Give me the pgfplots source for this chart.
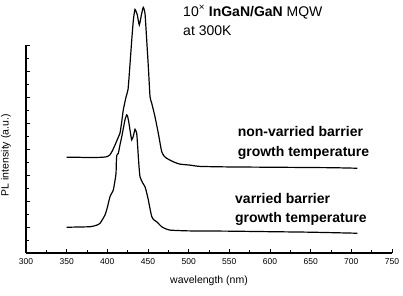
\documentclass[border=0pt]{standalone}
\usepackage{fontspec}
\setmainfont{Liberation Sans}
\usepackage{pgfplots}
\pgfplotsset{compat=1.18}

\begin{document}
\begin{tikzpicture}
\begin{axis}[
  scale only axis, width=366pt, height=208pt,
  xmin=300, xmax=750, ymin=0, ymax=8,
  axis x line*=bottom, axis y line*=left,
  axis line style={line width=1.1pt, -},
  xtick distance=50, minor x tick num=1,
  ytick={0,...,8}, minor y tick num=1, yticklabels={},
  tick align=inside,
  major tick length=4pt, minor tick length=2.5pt,
  tick style={black, line width=0.9pt},
  xticklabel style={font=\fontsize{8.5}{10}\selectfont, yshift=-2.5pt},
  /pgf/number format/assume math mode=true,
  /pgf/number format/1000 sep={},
  xlabel={wavelength (nm)}, ylabel={PL intensity (a.u.)},
  label style={font=\fontsize{10.5}{12}\selectfont},
  xlabel style={at={(axis description cs:0.5,-0.135)}, anchor=center},
  ylabel style={at={(axis description cs:-0.055,0.47)}, anchor=center},
  clip=false,
]
% non-varied barrier growth temperature
\addplot[black, line width=1.2pt, smooth, tension=0.3] coordinates {
(350,3.68) (365,3.68) (379,3.67) (392,3.68) (399,3.70) (403,3.77) (406,3.92)
(409.4,4.15) (412.5,4.38) (415.6,4.62) (417.5,5.0) (419.6,5.50) (423,6.0)
(425.5,6.3) (427.5,7.1) (430,8.19) (432,8.96) (434,9.37) (436.9,9.15)
(439.3,8.77) (442.3,9.22) (444.2,9.45) (446.3,9.22) (448.4,8.19) (450.4,7.17)
(452.5,6.01) (454.6,5.76) (458.6,5.24) (462.7,4.60) (466.8,3.90) (470,3.72)
(473,3.64) (481,3.51) (489,3.42) (501.6,3.38) (514,3.33) (550,3.31)
(596,3.30) (640,3.29) (678,3.28) (707.4,3.26)
};
% varied barrier growth temperature
\addplot[black, line width=1.2pt, smooth, tension=0.3] coordinates {
(350,0.99) (365,1.0) (378.7,1.01) (386,1.06) (391,1.14) (397.1,1.46) (400,1.75)
(403.3,2.17) (407.3,2.42) (409.5,2.8) (410.7,3.07) (411.2,3.6) (411.8,3.77)
(413.5,3.83) (415.5,4.15) (417.7,4.47) (421.7,5.12) (423.8,5.31) (425,5.25)
(426.6,4.99) (428.5,4.6) (430,4.35) (432,4.5) (434,4.76) (436.1,4.60)
(437.3,4.1) (438.1,3.70) (439.3,3.19) (440.2,2.93) (443,2.72) (446.3,2.55)
(448.5,2.3) (450.4,2.04) (452.5,1.7) (454.6,1.40) (457,1.28) (460.7,1.20)
(466.8,1.01) (471,0.94) (477.1,0.88) (490,0.86) (501.6,0.85) (550,0.84)
(600,0.82) (650,0.80) (707.4,0.76)
};
\node[anchor=base west, font=\fontsize{14}{16}\selectfont, inner sep=0pt]
  at (rel axis cs:0.429,1.139) {10\textsuperscript{\texttimes}\ \textbf{InGaN/GaN} MQW};
\node[anchor=base west, font=\fontsize{14}{16}\selectfont, inner sep=0pt]
  at (rel axis cs:0.429,1.048) {at 300K};
\node[anchor=base west, font=\fontsize{14}{16}\bfseries, inner sep=0pt]
  at (rel axis cs:0.578,0.561) {non-varried barrier};
\node[anchor=base west, font=\fontsize{14}{16}\bfseries, inner sep=0pt]
  at (rel axis cs:0.578,0.466) {growth temperature};
\node[anchor=base west, font=\fontsize{14}{16}\bfseries, inner sep=0pt]
  at (rel axis cs:0.571,0.239) {varried barrier};
\node[anchor=base west, font=\fontsize{14}{16}\bfseries, inner sep=0pt]
  at (rel axis cs:0.571,0.146) {growth temperature};
\end{axis}
\pgfresetboundingbox
\path ([shift={(-26pt,-43pt)}]current axis.south west)
  rectangle ([shift={(11pt,45pt)}]current axis.north east);
\end{tikzpicture}
\end{document}
